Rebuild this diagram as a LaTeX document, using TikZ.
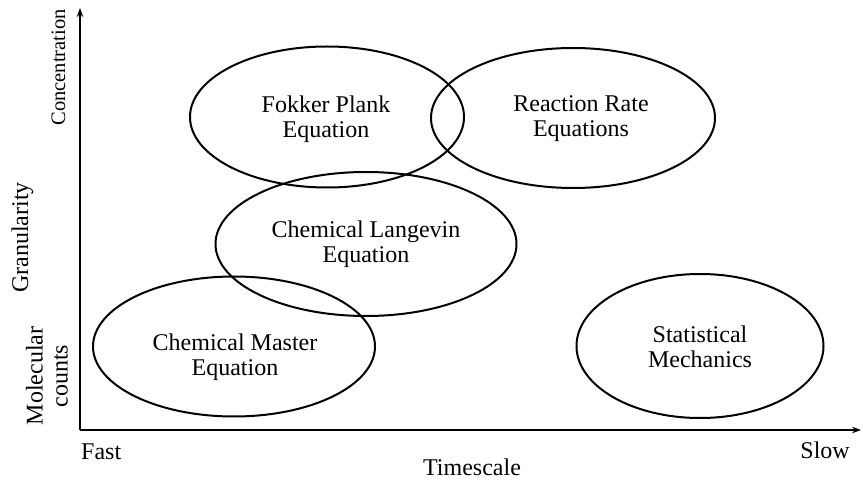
\documentclass[tikz,border=0pt]{standalone}
\usepackage{fontspec}
\setmainfont{Liberation Serif}
\usetikzlibrary{shapes.geometric,arrows.meta}
\begin{document}
\begin{tikzpicture}[x=1pt,y=-1pt,
  region/.style={draw,line width=2pt,ellipse,inner sep=0pt},
  txt/.style={inner sep=0pt,align=center,font=\fontsize{24}{25}\selectfont},
  lbl/.style={font=\fontsize{24}{25}\selectfont,inner sep=0pt,align=center},
  axis/.style={line width=1.2pt,-{Stealth[length=9pt,width=6.5pt]}}]
\useasboundingbox (0,0) rectangle (863,481);
\coordinate (o) at (80,430);
\coordinate (ytop) at (80,8);
\coordinate (xend) at (861,430);
\draw[axis] (o) -- (ytop);
\draw[axis] (o) -- (xend);
\node[region,minimum width=274pt,minimum height=141pt] (fp) at (327,117) {};
\node[region,minimum width=284pt,minimum height=140pt] (rr) at (573,118) {};
\node[region,minimum width=301pt,minimum height=144pt] (cl) at (366,244) {};
\node[region,minimum width=282pt,minimum height=140pt] (cm) at (234,346.5) {};
\node[region,minimum width=247pt,minimum height=144pt] (sm) at (700,346) {};
\node[txt] (fpt) at (326,119) {Fokker Plank\\Equation};
\node[txt] (rrt) at (581,119) {Reaction Rate\\Equations};
\node[txt] (clt) at (366,244) {Chemical Langevin\\Equation};
\node[txt] (cmt) at (235,357) {Chemical Master\\Equation};
\node[txt] (smt) at (700,347) {Statistical\\Mechanics};
\node[lbl,anchor=base west] (fast) at (81,459) {Fast};
\node[lbl,anchor=base east] (slow) at (850,458) {Slow};
\node[lbl,anchor=base] (ts) at (472,475) {Timescale};
\node[lbl,rotate=90,anchor=base,font=\fontsize{20.5}{22}\selectfont] (conc) at (65,67.5) {Concentration};
\node[lbl,rotate=90,anchor=base] (gran) at (28,237.5) {Granularity};
\node[lbl,rotate=90] (mol) at (47,376) {Molecular\\counts};
\end{tikzpicture}
\end{document}
